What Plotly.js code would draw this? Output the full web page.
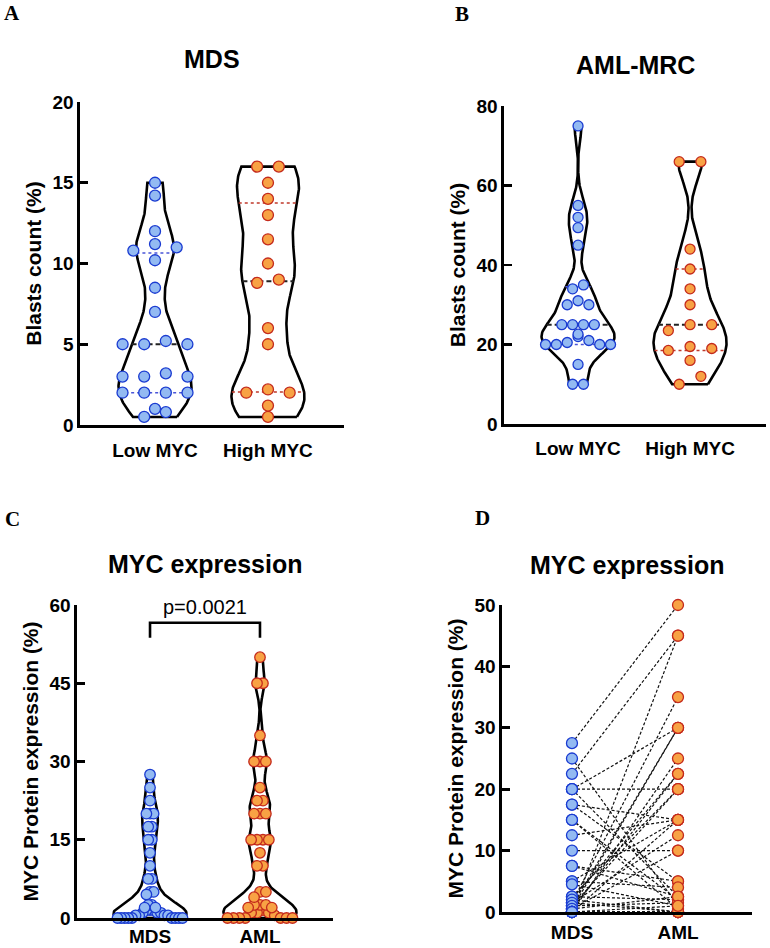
<!DOCTYPE html>
<html><head><meta charset="utf-8">
<script src="https://cdn.plot.ly/plotly-3.0.1.min.js"></script>
<style>html,body{margin:0;padding:0;background:#fff}#chart{width:770px;height:948px}</style>
</head><body><div id="chart"></div>
<script>
// ---------------- DATA ----------------
const myCategories = ['Low MYC', 'High MYC'];
const mdsLowMYC  = [15, 14.2, 12, 11.2, 11, 10.8, 10.2, 8.5, 7, 5, 5, 5, 5.2, 3, 3, 3, 3.2, 2, 2, 2, 2, 1, 0.8, 0.5];
const mdsHighMYC = [16, 16, 15, 14, 13, 11.5, 10, 9, 8.8, 6, 5, 2.2, 2, 2, 1.2, 0.5];
const amlLowMYC  = [75, 55, 52, 49.4, 45, 35, 34, 31, 30, 30, 25, 25, 25, 25, 22.6, 22, 21, 20.5, 20, 20, 20, 20, 15, 10, 10];
const amlHighMYC = [66, 66, 44, 39, 34, 30, 25, 25, 23.5, 19.5, 19, 18.5, 16, 12, 10];
const diseaseCategories = ['MDS', 'AML'];
// paired by patient (same index = same patient)
const mycMDS = [27.5,22.5,0,1.5,20,0.5,1,0,2,0.5,20,1,2.5,17.5,12.5,5,0,1.5,10,0.5,25,20,17.5,15,15,7.5,7.5,5,4.5,2.5,2,1.5,1,0.5,0,0,0,0,0,0];
const mycAML = [50,45,45,35,30,30,30,25,22.5,22.5,20,20,20,15,15,15,15,12.5,10,10,1,2.5,5,2,0.5,5,2.5,4,1,2,0,0,1.5,2.5,0,0,0,0,0,1];
const pValueText = 'p=0.0021';
const bracketTop = 56.6, bracketLeg = 53.7, pTextY = 59.6;

// ---------------- STYLE / GEOMETRY ----------------
const W = 770, H = 948;
const FONT = '"Liberation Sans", Arial, Helvetica, sans-serif';
const SERIF = '"Liberation Serif", "Times New Roman", serif';
const BLUE_FILL = '#93BAF2', BLUE_LINE = '#1A3BD1', OR_FILL = '#F8A244', OR_LINE = '#C42A1C';
const panels = {
  A: {xa:'x',  ya:'y',  xpx:[80,344],  ypx:[102,425], yr:[0,20], xr:[-0.664,1.673], dtick:5,  title:'MDS',            ytitle:'Blasts count (%)',           titleY:59,  letter:'A', letterX:12,  letterY:13,  cats:myCategories, msize:11, xstand:7},
  B: {xa:'x2', ya:'y2', xpx:[504,766], ypx:[106,424], yr:[0,80], xr:[-0.661,1.678], dtick:20, title:'AML-MRC',        ytitle:'Blasts count (%)',           titleY:65,  letter:'B', letterX:462, letterY:14,  cats:myCategories, msize:10, xstand:6},
  C: {xa:'x3', ya:'y3', xpx:[77,333],  ypx:[605,918], yr:[0,60], xr:[-0.664,1.664], dtick:15, title:'MYC expression', ytitle:'MYC Protein expression (%)', titleY:564, letter:'C', letterX:12,  letterY:519, cats:diseaseCategories, msize:10.5, xstand:0},
  D: {xa:'x4', ya:'y4', xpx:[502,752], ypx:[605,912], yr:[0,50], xr:[-0.660,1.698], dtick:10, title:'MYC expression', ytitle:'MYC Protein expression (%)', titleY:565, letter:'D', letterX:482, letterY:518, cats:diseaseCategories, msize:11, xstand:2},
};
for (const k in panels) {
  const p = panels[k];
  p.pxX = (p.xpx[1]-p.xpx[0])/(p.xr[1]-p.xr[0]);
  p.pxY = (p.ypx[1]-p.ypx[0])/(p.yr[1]-p.yr[0]);
}
const MAX_HW_PX = 36.5;

function kde(vals, bw, y) { let s = 0; for (const v of vals) { const z = (y - v) / bw; s += Math.exp(-0.5 * z * z); } return s; }
function makeViolin(vals, bw, p) {
  const lo = Math.min(...vals), hi = Math.max(...vals), N = 200;
  const ys = [], ds = [];
  for (let i = 0; i <= N; i++) { const y = lo + (hi - lo) * i / N; ys.push(y); ds.push(kde(vals, bw, y)); }
  const m = Math.max(...ds);
  const maxHw = MAX_HW_PX / p.pxX;
  return { ys, hw: ds.map(d => d / m * maxHw), at: y => (y < lo || y > hi) ? 0 : kde(vals, bw, y) / m * maxHw };
}
function outlineTrace(v, c, p) {
  const xs = [], ys = [];
  for (let i = 0; i < v.ys.length; i++) { xs.push(c + v.hw[i]); ys.push(v.ys[i]); }
  for (let i = v.ys.length - 1; i >= 0; i--) { xs.push(c - v.hw[i]); ys.push(v.ys[i]); }
  xs.push(xs[0]); ys.push(ys[0]);
  return {type:'scatter', mode:'lines', x:xs, y:ys, xaxis:p.xa, yaxis:p.ya, line:{color:'#000', width:2.6}, hoverinfo:'skip', cliponaxis:false};
}
function pct(vals, q) {
  const s = vals.slice().sort((a,b)=>a-b), n = s.length, pos = (n+1)*q;
  if (pos <= 1) return s[0]; if (pos >= n) return s[n-1];
  const f = Math.floor(pos); return s[f-1] + (pos - f) * (s[f] - s[f-1]);
}
function levelLine(v, c, y, p, color, dash, width) {
  const hw = v.at(y);
  return {type:'scatter', mode:'lines', x:[c-hw, c+hw], y:[y, y], xaxis:p.xa, yaxis:p.ya, line:{color, dash, width}, hoverinfo:'skip'};
}
function swarm(vals, v, c, p, binPx=8, Smax=21.7, Wmax=65, k=1.4) {
  const sorted = vals.slice().sort((a,b)=>a-b);
  const groups = []; let g = [];
  for (const val of sorted) { if (g.length && (val - g[0]) * p.pxY >= binPx) { groups.push(g); g = []; } g.push(val); }
  if (g.length) groups.push(g);
  const nmax = Math.max(...groups.map(gr => gr.length));
  const s = nmax > 1 ? Math.min(Smax, Wmax/(nmax-1)) : Smax;
  const xs = [], ys = [];
  for (const gr of groups) {
    const n = gr.length, mean = gr.reduce((a,b)=>a+b,0)/n;
    const hwPx = v.at(mean) * p.pxX;
    const sr = n > 1 ? Math.min(s, k*2*hwPx/(n-1)) : 0;
    const slots = [...Array(n).keys()].map(j => j - (n-1)/2).sort((a,b) => Math.abs(a)-Math.abs(b) || b-a);
    const desc = gr.slice().sort((a,b)=>b-a);
    desc.forEach((val, i) => { xs.push(c + slots[i]*sr/p.pxX); ys.push(val); });
  }
  return {xs, ys};
}
function markerTrace(xs, ys, p, fill, line) {
  return {type:'scatter', mode:'markers', x:xs, y:ys, xaxis:p.xa, yaxis:p.ya, cliponaxis:false,
    marker:{size:p.msize, color:fill, line:{color:line, width:1.3}}, hoverinfo:'skip'};
}

const traces = [];
function violinGroup(vals, bw, c, p, fill, line, qColor, withLines) {
  const v = makeViolin(vals, bw, p);
  traces.push(outlineTrace(v, c, p));
  if (withLines) {
    traces.push(levelLine(v, c, pct(vals, 0.25), p, qColor, 'dot', 1.5));
    traces.push(levelLine(v, c, pct(vals, 0.75), p, qColor, 'dot', 1.5));
    traces.push(levelLine(v, c, pct(vals, 0.5), p, '#222', '5px,3px', 2));
  }
  const sw = swarm(vals, v, c, p);
  return markerTrace(sw.xs, sw.ys, p, fill, line);
}
const markerLayer = [];
markerLayer.push(violinGroup(mdsLowMYC, 1.3, 0, panels.A, BLUE_FILL, BLUE_LINE, '#4A55D8', true));
markerLayer.push(violinGroup(mdsHighMYC, 1.6, 1, panels.A, OR_FILL, OR_LINE, '#C0392B', true));
markerLayer.push(violinGroup(amlLowMYC, 3.5, 0, panels.B, BLUE_FILL, BLUE_LINE, '#4A55D8', true));
markerLayer.push(violinGroup(amlHighMYC, 5, 1, panels.B, OR_FILL, OR_LINE, '#C0392B', true));
markerLayer.push(violinGroup(mycMDS, 2.0, 0, panels.C, BLUE_FILL, BLUE_LINE, null, false));
markerLayer.push(violinGroup(mycAML, 2.2, 1, panels.C, OR_FILL, OR_LINE, null, false));
traces.push(...markerLayer);

// Panel D: paired lines
const pD = panels.D;
const lx = [], ly = [];
mycMDS.forEach((m, i) => { lx.push(0, 1, null); ly.push(m, mycAML[i], null); });
traces.push({type:'scatter', mode:'lines', x:lx, y:ly, xaxis:pD.xa, yaxis:pD.ya, line:{color:'#111', width:1.2, dash:'3px,2px'}, hoverinfo:'skip', cliponaxis:false});
traces.push(markerTrace(mycMDS.map(()=>0), mycMDS, pD, BLUE_FILL, BLUE_LINE));
traces.push(markerTrace(mycAML.map(()=>1), mycAML, pD, OR_FILL, OR_LINE));

// ---------------- LAYOUT ----------------
const layout = {width:W, height:H, margin:{l:0,r:0,t:0,b:0}, showlegend:false, paper_bgcolor:'#fff', plot_bgcolor:'rgba(0,0,0,0)', annotations:[], shapes:[]};
for (const key in panels) {
  const p = panels[key];
  const xn = p.xa === 'x' ? 'xaxis' : 'xaxis' + p.xa.slice(1);
  const yn = p.ya === 'y' ? 'yaxis' : 'yaxis' + p.ya.slice(1);
  layout[xn] = {domain:[p.xpx[0]/W, p.xpx[1]/W], range:p.xr, anchor:p.ya, showline:true, linecolor:'#000', linewidth:2.6,
    ticks:'', tickvals:[0,1], ticktext:p.cats, ticklabelstandoff:p.xstand, tickfont:{family:FONT, size:19, color:'#000', weight:'bold'},
    showgrid:false, zeroline:false, fixedrange:true};
  layout[yn] = {domain:[(H-p.ypx[1])/H, (H-p.ypx[0])/H], range:p.yr, anchor:p.xa, tick0:0, dtick:p.dtick,
    ticks:'inside', ticklen:8, tickwidth:2.6, tickcolor:'#000', showline:true, linecolor:'#000', linewidth:2.6,
    tickfont:{family:FONT, size:19, color:'#000', weight:'bold'}, showgrid:false, zeroline:false, fixedrange:true,
    title:{text:p.ytitle, font:{family:FONT, size:21, color:'#000', weight:'bold'}, standoff:5}};
  layout.annotations.push({xref:p.xa + ' domain', x:0.5, yref:'paper', y:1 - p.titleY/H, xanchor:'center', yanchor:'middle',
    text:p.title, showarrow:false, font:{family:FONT, size:25, color:'#000', weight:'bold'}});
  layout.annotations.push({xref:'paper', x:p.letterX/W, yref:'paper', y:1 - p.letterY/H, xanchor:'center', yanchor:'middle',
    text:p.letter, showarrow:false, font:{family:SERIF, size:21, color:'#000', weight:'bold'}});
}
const pC = panels.C;
layout.shapes.push({type:'path', xref:pC.xa, yref:pC.ya,
  path:`M 0,${bracketLeg} L 0,${bracketTop} L 1,${bracketTop} L 1,${bracketLeg}`, line:{color:'#000', width:2.6}});
layout.annotations.push({xref:pC.xa, x:0.5, yref:pC.ya, y:pTextY, xanchor:'center', yanchor:'middle', text:pValueText,
  showarrow:false, font:{family:FONT, size:20, color:'#000'}});

Plotly.newPlot('chart', traces, layout, {staticPlot:true, displayModeBar:false});
</script></body></html>
